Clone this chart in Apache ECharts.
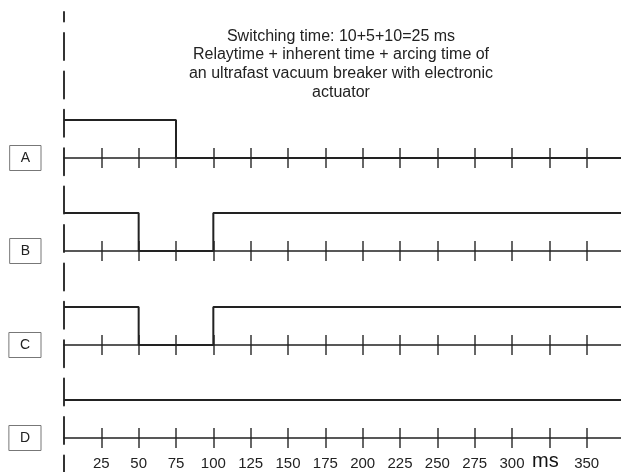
<!DOCTYPE html>
<html>
<head>
<meta charset="utf-8">
<script src="https://cdn.jsdelivr.net/npm/echarts@6/dist/echarts.min.js"></script>
<style>
  html, body { margin: 0; padding: 0; background: #fff; }
  #chart { width: 621px; height: 472px; }
</style>
</head>
<body>
<div id="chart"></div>
<script>
// signal rows and their step points [ms, level]
const rows = ['A', 'B', 'C', 'D'];
const signalA = [[0, 1], [75, 0], [373, 0]];
const signalB = [[0, 1], [50, 0], [100, 1], [373, 1]];
const signalC = [[0, 1], [50, 0], [100, 1], [373, 1]];
const signalD = [[0, 1], [373, 1]];
const signals = [signalA, signalB, signalC, signalD];
const tickStep = 25;
const timeMax = 373;
const unitAt = 325; // the "ms" label sits where 325 would be
const titleLines = [
  'Switching time: 10+5+10=25 ms',
  'Relaytime + inherent time + arcing time of',
  'an ultrafast vacuum breaker with electronic',
  'actuator'
];

// layout (px)
const left = 64;
const highTops = [120, 213, 307, 400];
const rowH = 38;
const ink = '#222';

const chart = echarts.init(document.getElementById('chart'));

const grid = [], xAxis = [], yAxis = [], series = [];

rows.forEach((name, i) => {
  const top = highTops[i];
  const base = top + rowH;
  const last = i === rows.length - 1;

  // signal grid: baseline = x axis line
  grid.push({ left: left, right: 0, top: top, height: rowH });
  const gs = grid.length - 1;
  xAxis.push({
    gridIndex: gs, type: 'value', min: 0, max: timeMax,
    axisLine: { show: true, onZero: false, lineStyle: { color: ink, width: 1.5 } },
    axisTick: { show: false }, axisLabel: { show: false }, splitLine: { show: false }
  });
  yAxis.push({ gridIndex: gs, type: 'value', min: 0, max: 1, show: false });
  series.push({
    type: 'line', xAxisIndex: gs, yAxisIndex: gs, step: 'end',
    data: signals[i], symbol: 'none', clip: false, silent: true,
    lineStyle: { color: ink, width: 2 }
  });

  // tick grid: split lines act as ticks crossing the baseline
  grid.push({ left: left, right: 0, top: base - 10, height: 20 });
  const gt = grid.length - 1;
  xAxis.push({
    gridIndex: gt, type: 'value', min: 0, max: timeMax, interval: tickStep,
    axisLine: { show: false }, axisTick: { show: false },
    splitLine: { show: true, showMinLine: false, showMaxLine: false,
      lineStyle: { color: '#333', width: 1.5 } },
    axisLabel: {
      show: last, margin: 8, fontSize: 15, color: ink, fontFamily: 'Liberation Sans',
      showMinLabel: false, showMaxLabel: false,
      formatter: v => v === unitAt ? '{u|ms}' : String(v),
      rich: { u: { fontSize: 20, lineHeight: 11, color: '#111', fontFamily: 'Liberation Sans',
        padding: [0, 8, 0, 0] } }
    }
  });
  yAxis.push({
    gridIndex: gt, type: 'category', data: [name],
    axisLine: { show: false }, axisTick: { show: false }, splitLine: { show: false },
    axisLabel: {
      margin: 23, fontSize: 14, color: ink, fontFamily: 'Liberation Sans',
      borderColor: '#777', borderWidth: 1, padding: [6, 11, 5, 11]
    }
  });
});

// full-height dashed time-zero line
grid.push({ left: left, right: 0, top: 12, bottom: 0 });
const gz = grid.length - 1;
xAxis.push({ gridIndex: gz, type: 'value', min: 0, max: timeMax, show: false });
yAxis.push({
  gridIndex: gz, type: 'value', min: 0, max: 1,
  axisLine: { show: true, onZero: false,
    lineStyle: { color: '#333', width: 2, type: [27, 11.4], dashOffset: 10.4 } },
  axisTick: { show: false }, axisLabel: { show: false }, splitLine: { show: false }
});

chart.setOption({
  animation: false,
  title: {
    text: titleLines.join('\n'),
    left: 336, top: 22, textAlign: 'center',
    textStyle: { fontSize: 16, fontWeight: 'normal', color: ink, lineHeight: 18.7,
      fontFamily: 'Liberation Sans' }
  },
  grid: grid,
  xAxis: xAxis,
  yAxis: yAxis,
  series: series
});
</script>
</body>
</html>
